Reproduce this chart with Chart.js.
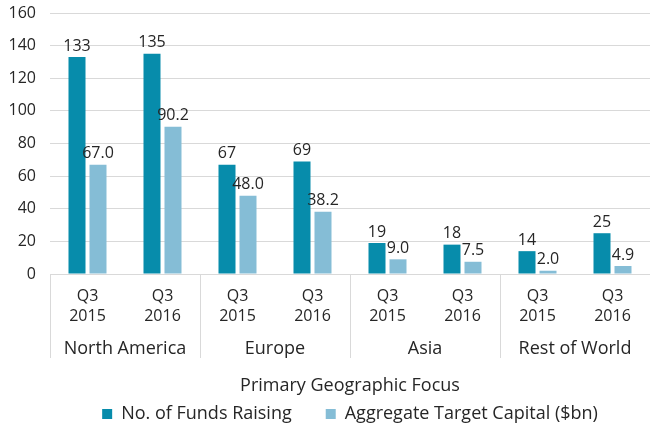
<!DOCTYPE html>
<html lang="en">
<head>
  <meta charset="UTF-8" />
  <title>Funds Raising by Primary Geographic Focus</title>
  <script src="https://cdn.jsdelivr.net/npm/chart.js@4.4.0/dist/chart.umd.min.js"></script>
  <style>
    html, body { margin: 0; padding: 0; background: #fff; }
    .wrap { width: 650px; height: 425px; }
  </style>
</head>
<body>
  <div class="wrap"><canvas id="chart"></canvas></div>

  <script>
    // data
    const regions = ['North America', 'Europe', 'Asia', 'Rest of World'];
    const quarters = [['Q3', '2015'], ['Q3', '2016']];
    const fundsRaising = [133, 135, 67, 69, 19, 18, 14, 25];
    const targetCapital = [67.0, 90.2, 48.0, 38.2, 9.0, 7.5, 2.0, 4.9];
    const yTicks = [0, 20, 40, 60, 80, 100, 120, 140, 160];

    const FONT = '"Open Sans", sans-serif';
    const FS = 16;      // numbers + quarter ticks
    const FS_BIG = 18;  // region names, axis title, legend
    const TEXT = '#262626';
    const LINE = '#d9d9d9';

    const labels = [];
    regions.forEach(() => quarters.forEach(q => labels.push(q)));

    // value labels above each bar
    const barLabels = {
      id: 'barLabels',
      afterDatasetsDraw(chart) {
        const ctx = chart.ctx;
        ctx.save();
        ctx.font = FS + 'px ' + FONT;
        ctx.fillStyle = TEXT;
        ctx.textAlign = 'center';
        ctx.textBaseline = 'bottom';
        chart.data.datasets.forEach((ds, i) => {
          chart.getDatasetMeta(i).data.forEach((bar, j) => {
            const v = ds.data[j];
            ctx.fillText(i === 0 ? String(v) : v.toFixed(1), bar.x, bar.y - 3);
          });
        });
        ctx.restore();
      }
    };

    // second row of category labels + separators
    const regionAxis = {
      id: 'regionAxis',
      afterDraw(chart) {
        const ctx = chart.ctx;
        const x = chart.scales.x;
        const top = chart.chartArea.bottom;
        const bottom = top + 84;
        const step = x.getPixelForValue(1) - x.getPixelForValue(0);
        ctx.save();
        ctx.strokeStyle = LINE;
        ctx.lineWidth = 1;
        ctx.font = FS_BIG + 'px ' + FONT;
        ctx.fillStyle = TEXT;
        ctx.textAlign = 'center';
        ctx.textBaseline = 'middle';
        regions.forEach((r, i) => {
          const left = x.getPixelForValue(i * 2) - step / 2;
          const lx = Math.round(left) + 0.5;
          ctx.beginPath();
          ctx.moveTo(lx, top);
          ctx.lineTo(lx, bottom);
          ctx.stroke();
          const cx = (x.getPixelForValue(i * 2) + x.getPixelForValue(i * 2 + 1)) / 2;
          ctx.fillText(r, cx, top + 75);
        });
        ctx.restore();
      }
    };

    new Chart(document.getElementById('chart'), {
      type: 'bar',
      data: {
        labels: labels,
        datasets: [
          {
            label: 'No. of Funds Raising',
            data: fundsRaising,
            backgroundColor: '#078cab',
            categoryPercentage: 0.56,
            barPercentage: 0.81
          },
          {
            label: 'Aggregate Target Capital ($bn)',
            data: targetCapital,
            backgroundColor: '#85bdd6',
            categoryPercentage: 0.56,
            barPercentage: 0.81
          }
        ]
      },
      options: {
        responsive: true,
        maintainAspectRatio: false,
        animation: false,
        layout: { padding: { top: 13, right: 0, left: 0, bottom: -8 } },
        scales: {
          x: {
            grid: { display: false },
            border: { display: true, color: LINE },
            ticks: {
              color: TEXT,
              font: { family: FONT, size: FS, lineHeight: 1.25 },
              padding: 4,
              maxRotation: 0
            },
            title: {
              display: true,
              text: 'Primary Geographic Focus',
              color: TEXT,
              font: { family: FONT, size: FS_BIG },
              padding: { top: 0, bottom: -26 }
            },
            afterFit(scale) { scale.height = 97; }
          },
          y: {
            min: 0,
            max: 160,
            afterBuildTicks(scale) { scale.ticks = yTicks.map(v => ({ value: v })); },
            grid: { color: LINE, drawTicks: false },
            border: { display: false },
            ticks: {
              color: TEXT,
              font: { family: FONT, size: FS },
              padding: 14
            },
            afterFit(scale) {
              scale.width = 50;
              scale.paddingTop = 0;
            }
          }
        },
        plugins: {
          legend: {
            position: 'bottom',
            fullSize: false,
            labels: {
              color: TEXT,
              font: { family: FONT, size: FS_BIG },
              boxWidth: 10,
              boxHeight: 10,
              padding: 34
            }
          },
          tooltip: { enabled: false }
        }
      },
      plugins: [barLabels, regionAxis]
    });
  </script>
</body>
</html>
